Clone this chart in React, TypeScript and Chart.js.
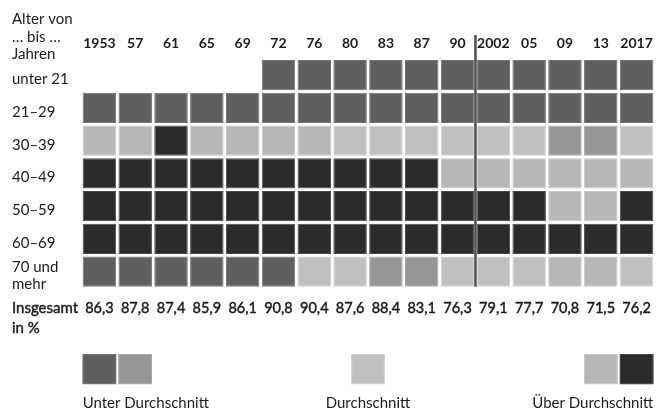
import React, { useEffect, useRef } from "react";
import { Chart, registerables } from "chart.js";

Chart.register(...registerables);

// ---- data ----
const years = ["1953", "57", "61", "65", "69", "72", "76", "80", "83", "87", "90", "2002", "05", "09", "13", "2017"];
const ageGroups: string[][] = [["unter 21"], ["21–29"], ["30–39"], ["40–49"], ["50–59"], ["60–69"], ["70 und", "mehr"]];
// codes: U1 = deutlich unter, U2 = unter, D = Durchschnitt, O1 = über, O2 = deutlich über
const rowUnter21 = [null, null, null, null, null, "U1", "U1", "U1", "U1", "U1", "U1", "U1", "U1", "U1", "U1", "U1"];
const row21_29 = ["U1", "U1", "U1", "U1", "U1", "U1", "U1", "U1", "U1", "U1", "U1", "U1", "U1", "U1", "U1", "U1"];
const row30_39 = ["O1", "O1", "O2", "O1", "O1", "O1", "O1", "D", "D", "D", "D", "D", "D", "U2", "U2", "D"];
const row40_49 = ["O2", "O2", "O2", "O2", "O2", "O2", "O2", "O2", "O2", "O2", "O1", "O1", "O1", "O1", "O1", "O1"];
const row50_59 = ["O2", "O2", "O2", "O2", "O2", "O2", "O2", "O2", "O2", "O2", "O2", "O2", "O2", "O1", "O1", "O2"];
const row60_69 = ["O2", "O2", "O2", "O2", "O2", "O2", "O2", "O2", "O2", "O2", "O2", "O2", "O2", "O2", "O2", "O2"];
const row70plus = ["U1", "U1", "U1", "U1", "U1", "U1", "D", "D", "U2", "U2", "D", "D", "D", "O1", "O1", "D"];
const rows: (string | null)[][] = [rowUnter21, row21_29, row30_39, row40_49, row50_59, row60_69, row70plus];
const totals = [86.3, 87.8, 87.4, 85.9, 86.1, 90.8, 90.4, 87.6, 88.4, 83.1, 76.3, 79.1, 77.7, 70.8, 71.5, 76.2];
const legendLabels = ["Unter Durchschnitt", "Durchschnitt", "Über Durchschnitt"];
const legendCodes = [["U1", "U2"], ["D"], ["O1", "O2"]];

// ---- styles ----
const fill: Record<string, string> = { U1: "#5f5f5f", U2: "#969696", D: "#c0c0c0", O1: "#b7b7b7", O2: "#2b2b2b" };
const edge: Record<string, string> = { U1: "#737373", U2: "#a8a8a8", D: "#d0d0d0", O1: "#c9c9c9", O2: "#4a4a4a" };
const FONT = "Lato, 'Noto Sans', sans-serif";
const TEXT = "#1c1c1c";
const GAP = 0.04;
const BAR_PCT = 0.935;

const overlay = {
  id: "overlay",
  afterDraw(chart: any) {
    const ctx = chart.ctx as CanvasRenderingContext2D;
    const xs = chart.scales.x;
    const ys = chart.scales.y;
    const pitch = xs.getPixelForValue(1) - xs.getPixelForValue(0);
    const cellW = pitch * BAR_PCT;
    const cellH = Math.abs(ys.getPixelForValue(1 - GAP) - ys.getPixelForValue(GAP));
    ctx.save();
    ctx.fillStyle = TEXT;
    ctx.strokeStyle = TEXT;
    ctx.textBaseline = "alphabetic";

    const medium = (t: string, x: number, y: number) => {
      ctx.fillText(t, x, y);
      ctx.lineWidth = 0.45;
      ctx.strokeText(t, x, y);
    };

    // header
    ctx.font = `15px ${FONT}`;
    ctx.textAlign = "left";
    ctx.fillText("Alter von", 12, 24);
    ctx.fillText("… bis …", 12, 41.5);
    ctx.fillText("Jahren", 12, 59);

    // year labels
    ctx.font = `bold 14px ${FONT}`;
    ctx.textAlign = "center";
    years.forEach((yr, i) => ctx.fillText(yr, xs.getPixelForValue(i), 48.3));

    // row labels
    ctx.font = `15px ${FONT}`;
    ctx.textAlign = "left";
    ageGroups.forEach((lines, r) => {
      const c = ys.getPixelForValue(r + 0.5);
      if (lines.length === 1) ctx.fillText(lines[0], 12, c + 9);
      else lines.forEach((l, k) => ctx.fillText(l, 12, c + 0.3 + k * 17.3));
    });

    // totals
    ctx.font = `15px ${FONT}`;
    medium("Insgesamt", 12, 313.3);
    medium("in %", 12, 333.3);
    ctx.font = `14.5px ${FONT}`;
    ctx.textAlign = "center";
    totals.forEach((v, i) => medium(v.toFixed(1).replace(".", ","), xs.getPixelForValue(i), 313.3));

    // separator line between 1990 and 2002
    const lx = (xs.getPixelForValue(10) + xs.getPixelForValue(11)) / 2;
    ctx.strokeStyle = "#4f4f4f";
    ctx.lineWidth = 2.5;
    ctx.beginPath();
    ctx.moveTo(lx, 35);
    ctx.lineTo(lx, ys.getPixelForValue(7 - GAP));
    ctx.stroke();

    // legend
    const top = 354;
    const drawSq = (left: number, code: string) => {
      ctx.fillStyle = fill[code];
      ctx.fillRect(left, top, cellW, cellH);
      ctx.strokeStyle = edge[code];
      ctx.lineWidth = 1;
      ctx.strokeRect(left + 0.5, top + 0.5, cellW - 1, cellH - 1);
    };
    const colLeft = (i: number) => xs.getPixelForValue(i) - cellW / 2;
    drawSq(colLeft(0), legendCodes[0][0]);
    drawSq(colLeft(1), legendCodes[0][1]);
    const mid = (xs.getPixelForValue(7) + xs.getPixelForValue(8)) / 2;
    drawSq(mid - cellW / 2, legendCodes[1][0]);
    drawSq(colLeft(14), legendCodes[2][0]);
    drawSq(colLeft(15), legendCodes[2][1]);

    ctx.fillStyle = TEXT;
    ctx.font = `15px ${FONT}`;
    ctx.textAlign = "left";
    ctx.fillText(legendLabels[0], colLeft(0), 408);
    ctx.textAlign = "center";
    ctx.fillText(legendLabels[1], mid, 408);
    ctx.textAlign = "right";
    ctx.fillText(legendLabels[2], colLeft(15) + cellW, 408);
    ctx.restore();
  },
};

export default function App() {
  const ref = useRef<HTMLCanvasElement | null>(null);
  useEffect(() => {
    if (!ref.current) return;
    const datasets = rows.map((row, r) => ({
      label: ageGroups[r].join(" "),
      data: row.map((code) => (code ? [r + GAP, r + 1 - GAP] : null)),
      backgroundColor: row.map((code) => (code ? fill[code] : "transparent")),
      borderColor: row.map((code) => (code ? edge[code] : "transparent")),
      borderWidth: 1,
      borderSkipped: false,
      barPercentage: BAR_PCT,
      categoryPercentage: 1,
      grouped: false,
    }));
    const chart = new Chart(ref.current, {
      type: "bar",
      data: { labels: years, datasets: datasets as any },
      options: {
        animation: false,
        responsive: false,
        maintainAspectRatio: false,
        layout: { padding: { left: 81.5, right: 10.5, top: 58.7, bottom: 122 } },
        plugins: { legend: { display: false }, tooltip: { enabled: false } },
        scales: {
          x: { type: "category", display: false, offset: true, grid: { display: false } },
          y: { type: "linear", display: false, min: 0, max: 7, reverse: true },
        },
      },
      plugins: [overlay],
    });
    return () => chart.destroy();
  }, []);
  return (
    <div style={{ position: "absolute", left: 0, top: 0, width: 665, height: 410, background: "#fff" }}>
      <canvas ref={ref} width={665} height={410} style={{ width: 665, height: 410 }} />
    </div>
  );
}
